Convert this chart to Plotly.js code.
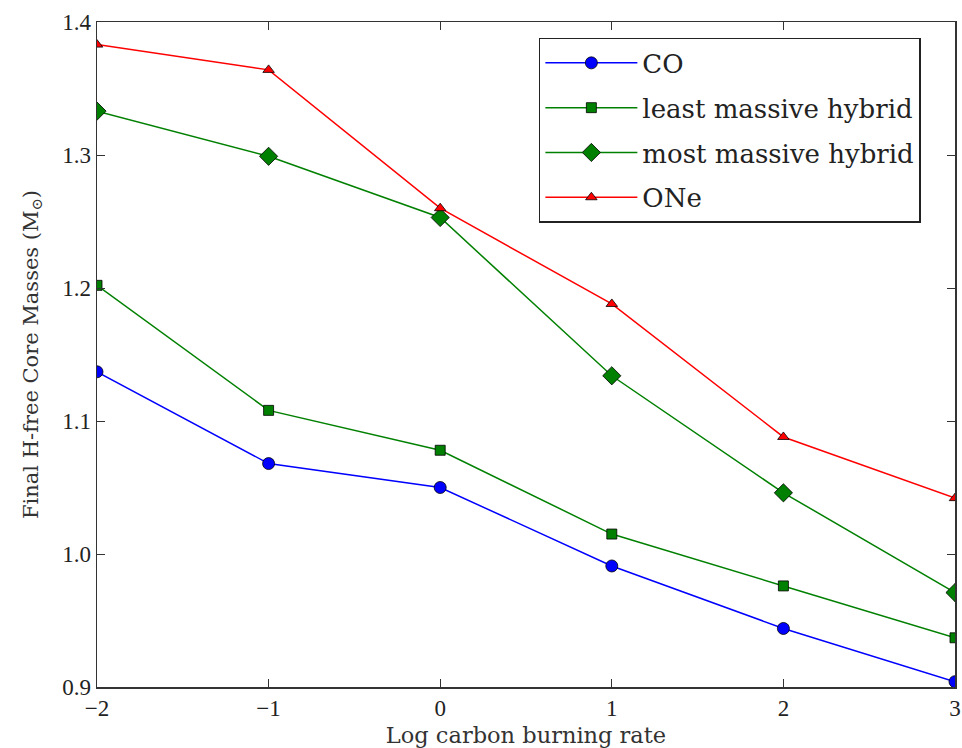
<!DOCTYPE html>
<html>
<head>
<meta charset="utf-8">
<script src="https://cdn.plot.ly/plotly-3.0.1.min.js"></script>
<style>html,body{margin:0;padding:0;background:#fff;}#chart{width:962px;height:748px;}</style>
</head>
<body>
<div id="chart"></div>
<script>
const xRates = [-2, -1, 0, 1, 2, 3];
const coMass = [1.137, 1.068, 1.050, 0.991, 0.944, 0.904];
const leastHybridMass = [1.202, 1.108, 1.078, 1.015, 0.976, 0.937];
const mostHybridMass = [1.333, 1.299, 1.253, 1.134, 1.046, 0.971];
const oneMass = [1.383, 1.364, 1.260, 1.188, 1.088, 1.042];
const xTicks = [-2, -1, 0, 1, 2, 3];
const yTicks = [0.9, 1.0, 1.1, 1.2, 1.3, 1.4];
const yTickLabels = ['0.9', '1.0', '1.1', '1.2', '1.3', '1.4'];

const serifWide = 'DejaVu Serif';
const serifNarrow = 'Liberation Serif';
const mk = (sym, color, size) => ({symbol: sym, color: color, size: size, line: {color: '#000', width: 0.8}});

const traces = [
  {x: xRates, y: coMass, name: 'CO', legendgroup: 'a', mode: 'lines+markers', line: {color: '#0000ff', width: 1.5}, marker: mk('circle', '#0000ff', 12)},
  {x: xRates, y: leastHybridMass, name: 'least massive hybrid', legendgroup: 'b', mode: 'lines+markers', line: {color: '#008000', width: 1.5}, marker: mk('square', '#008000', 10)},
  {x: xRates, y: mostHybridMass, name: 'most massive hybrid', legendgroup: 'c', mode: 'lines+markers', line: {color: '#008000', width: 1.5}, marker: mk('diamond', '#008000', 14)},
  {x: xRates, y: oneMass, name: 'ONe', legendgroup: 'd', mode: 'lines+markers', line: {color: '#ff0000', width: 1.5}, marker: mk('triangle-up', '#ff0000', 10)}
];

const axisCommon = {
  showgrid: false, zeroline: false, showline: true, linecolor: '#333', linewidth: 1.5,
  mirror: 'ticks', ticks: 'inside', ticklen: 8, tickcolor: '#333', tickwidth: 1,
  tickfont: {family: serifNarrow, size: 23, color: '#222'}
};

const layout = {
  width: 962, height: 748,
  margin: {l: 97, r: 7, t: 22, b: 61},
  paper_bgcolor: '#fff', plot_bgcolor: '#fff',
  showlegend: true,
  xaxis: Object.assign({}, axisCommon, {
    range: [-2, 3], tickvals: xTicks,
    title: {text: 'Log carbon burning rate', font: {family: serifWide, size: 22.5, color: '#333'}, standoff: 7}
  }),
  yaxis: Object.assign({}, axisCommon, {
    range: [0.9, 1.4], tickvals: yTicks, ticktext: yTickLabels,
    title: {text: 'Final H-free Core Masses (M<sub>⊙</sub>)', font: {family: serifWide, size: 21, color: '#333'}, standoff: 18}
  }),
  legend: {
    x: 0.515, y: 0.976, xanchor: 'left', yanchor: 'top',
    bgcolor: '#fff', bordercolor: '#222', borderwidth: 1.5,
    font: {family: serifWide, size: 26, color: '#222'},
    tracegroupgap: 8, itemwidth: 92
  }
};

Plotly.newPlot('chart', traces, layout, {displayModeBar: false, staticPlot: true});
</script>
</body>
</html>
